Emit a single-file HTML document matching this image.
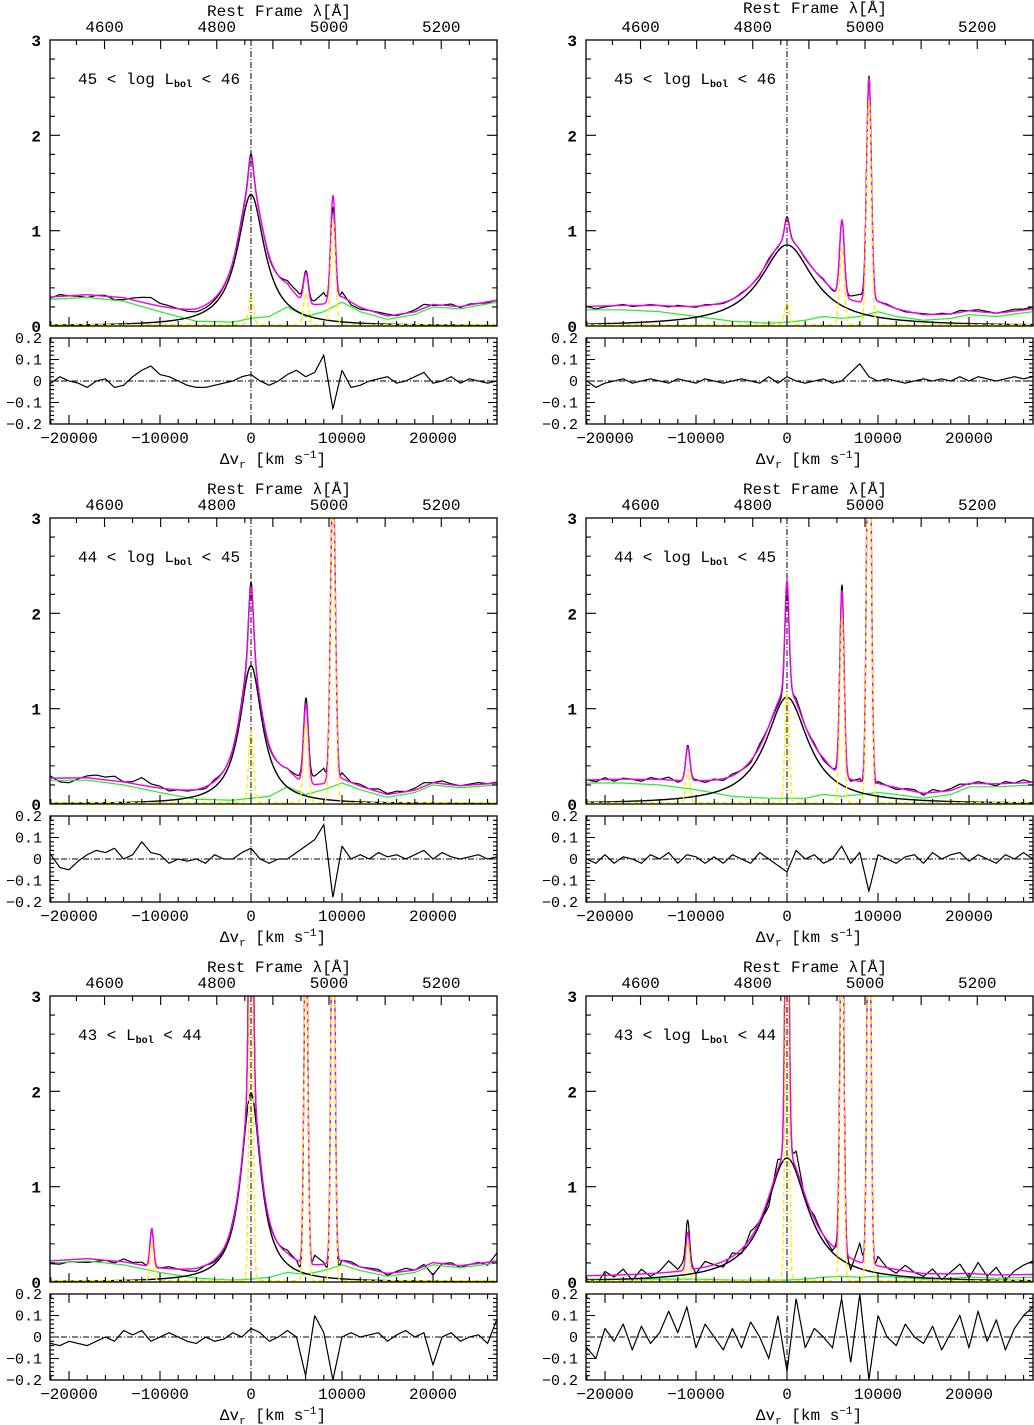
<!DOCTYPE html>
<html><head><meta charset="utf-8"><style>
body{margin:0;background:#fff;width:1034px;height:1425px;overflow:hidden}
svg{display:block}
text{font-family:"Liberation Mono","DejaVu Sans Mono",monospace;fill:#000}
</style></head><body>
<svg id="chart" width="1034" height="1425" viewBox="0 0 1034 1425"></svg>
<script>
// ---- data ----
const panelLabels = [["45","log ","46"],["45","log ","46"],["44","log ","45"],["44","log ","45"],["43","","44"],["43","log ","44"]];
// broad H-beta component: amplitude, half-width (km/s)
const broadAmp = [1.38, 0.85, 1.45, 1.12, 1.98, 1.30];
const broadHW = [1800, 3500, 1500, 2800, 1300, 2800];
// narrow lines: HeII, Hb narrow, [OIII]4959, [OIII]5007 centers
const narrowCenters = [-10900, 0, 6040, 9010];
const narrowAmps = [
 [0.00, 0.30, 0.33, 1.10],
 [0.00, 0.22, 0.80, 2.35],
 [0.00, 0.75, 0.85, 3.30],
 [0.35, 1.15, 1.95, 5.00],
 [0.40, 4.00, 4.00, 5.00],
 [0.40, 4.00, 4.00, 5.00]];
const narrowSigma = [260, 260, 260, 230, 200, 200];
// FeII + continuum (green) control velocities and values
const greenV = [-22000,-18000,-14000,-10000,-6000,-2000,0,2000,4000,6000,8000,10000,12000,15000,18000,20000,23000,27000];
const greenVals = [
 [0.28,0.30,0.26,0.15,0.05,0.04,0.08,0.10,0.20,0.10,0.15,0.25,0.15,0.07,0.12,0.20,0.18,0.25],
 [0.17,0.17,0.15,0.10,0.05,0.03,0.04,0.06,0.10,0.08,0.10,0.15,0.10,0.06,0.08,0.12,0.10,0.15],
 [0.25,0.25,0.20,0.12,0.05,0.04,0.06,0.08,0.18,0.10,0.15,0.22,0.15,0.07,0.12,0.20,0.17,0.20],
 [0.22,0.22,0.20,0.15,0.08,0.06,0.06,0.06,0.10,0.08,0.10,0.12,0.10,0.06,0.10,0.18,0.18,0.20],
 [0.20,0.22,0.18,0.10,0.04,0.02,0.03,0.05,0.10,0.08,0.12,0.18,0.12,0.06,0.10,0.18,0.15,0.20],
 [0.03,0.03,0.03,0.03,0.02,0.02,0.02,0.03,0.05,0.06,0.05,0.06,0.05,0.03,0.04,0.05,0.04,0.05]];
// residuals, sampled every 1000 km/s from -22000
const resid = [
 [-0.01,0.02,0.0,-0.01,-0.03,0.0,0.01,-0.03,-0.02,0.02,0.05,0.07,0.03,0.02,0.0,-0.02,-0.03,-0.03,-0.02,-0.01,0.0,0.02,0.03,0.0,-0.02,0.0,0.03,0.05,0.02,0.04,0.12,-0.13,0.05,-0.03,-0.02,0.0,0.01,0.02,-0.01,0.0,0.02,0.04,-0.01,0.0,0.02,-0.01,0.01,0.0,-0.01,0.0],
 [0.0,-0.03,-0.01,0.0,0.01,-0.01,0.0,0.01,0.0,-0.01,0.01,0.0,-0.01,0.01,0.0,-0.01,0.0,0.01,0.0,-0.01,0.02,-0.01,0.02,0.0,-0.01,0.0,0.01,-0.01,0.0,0.04,0.08,0.02,0.0,0.01,0.0,-0.01,0.0,0.01,0.0,0.01,0.0,0.02,0.0,0.02,0.01,0.0,0.01,0.02,0.01,0.02],
 [0.02,-0.04,-0.05,-0.01,0.02,0.04,0.03,0.05,0.0,0.02,0.08,0.03,0.02,-0.02,0.0,-0.01,0.0,-0.02,0.02,0.0,0.0,0.03,0.05,0.0,-0.02,0.0,0.0,0.03,0.06,0.09,0.16,-0.18,0.06,0.0,0.02,0.0,0.03,0.01,0.02,0.0,0.02,0.04,0.0,0.03,0.01,0.0,0.01,0.02,0.0,0.01],
 [0.0,-0.02,0.02,-0.02,0.01,0.0,-0.02,0.02,0.0,0.03,-0.02,0.02,0.01,-0.02,0.01,-0.02,0.02,0.0,-0.02,0.03,0.0,-0.03,-0.06,0.04,0.0,0.02,-0.02,0.0,0.06,-0.02,0.03,-0.15,0.02,0.0,-0.02,0.01,0.02,-0.02,0.03,0.0,0.02,0.03,-0.01,0.02,0.0,-0.02,0.02,0.0,0.03,0.0],
 [-0.03,-0.04,-0.02,-0.03,-0.04,-0.02,0.0,-0.02,0.03,0.01,0.03,-0.02,0.0,0.02,0.0,-0.02,-0.03,0.0,-0.02,-0.01,0.02,0.0,0.04,0.02,-0.02,0.0,0.03,0.0,-0.18,0.1,0.02,-0.2,0.0,0.02,0.0,0.01,0.02,-0.02,0.01,0.03,0.0,0.02,-0.13,0.0,0.02,-0.02,0.0,0.01,-0.03,0.08],
 [-0.05,-0.1,0.04,-0.02,0.06,-0.06,0.05,-0.03,0.02,0.12,0.02,0.14,-0.05,0.06,0.0,-0.06,0.04,-0.05,0.07,0.0,-0.1,0.1,-0.16,0.18,-0.05,0.04,0.0,-0.05,0.18,-0.12,0.2,-0.2,0.1,0.0,-0.04,0.06,0.0,-0.03,0.05,-0.06,0.02,0.1,-0.05,0.12,-0.02,0.08,-0.06,0.04,0.1,0.14]];

const xTicksV = [-20000,-10000,0,10000,20000];
const xTickLabels = ["\u221220000","\u221210000","0","10000","20000"];
const yTicks = [0,1,2,3];
const rTicks = [0.2,0.1,0,-0.1,-0.2];
const rTickLabels = ["0.2","0.1","0","\u22120.1","\u22120.2"];
const lamLabels = [4600,4800,5000,5200];

// ---- layout ----
const NS="http://www.w3.org/2000/svg";
const svg=document.getElementById('chart');
const C=299792.458, L0=4861;
const colX=[251,787], leftX=[50,586], W=447;
const rowTop=[40,518,996];
const MH=286, RT=298, RH=86;
const PPV=9.1/1000;
function mk(tag,attrs,parent){const e=document.createElementNS(NS,tag);for(const k in attrs)e.setAttribute(k,attrs[k]);(parent||svg).appendChild(e);return e;}
function interp(xs,ys,x){if(x<=xs[0])return ys[0];for(let i=1;i<xs.length;i++){if(x<=xs[i]){const t=(x-xs[i-1])/(xs[i]-xs[i-1]);return ys[i-1]+t*(ys[i]-ys[i-1]);}}return ys[ys.length-1];}
function residAt(p,v){const f=(v+22000)/1000;const i=Math.max(0,Math.min(resid[p].length-2,Math.floor(f)));const t=f-i;return resid[p][i]*(1-t)+resid[p][i+1]*t;}

for(let p=0;p<6;p++){
  const col=p%2,row=Math.floor(p/2);
  const ox=colX[col], lx=leftX[col], ty=rowTop[row];
  const xs=v=>ox+v*PPV;
  const vmin=(lx-ox)/PPV, vmax=(lx+W-ox)/PPV;
  const ys=y=>ty+MH-y*(MH/3);
  const ry0=ty+RT, ryz=ry0+RH/2;
  const rys=y=>ryz-y*(RH/0.4);
  const g=mk('g',{});
  
  
  const cid='clip'+p, rcid='rclip'+p;
  const defs=mk('defs',{},g);
  const cp=mk('clipPath',{id:cid},defs);mk('rect',{x:lx,y:ty,width:W,height:MH},cp);
  const rcp=mk('clipPath',{id:rcid},defs);mk('rect',{x:lx,y:ry0,width:W,height:RH},rcp);

  const broad=v=>broadAmp[p]/(1+Math.pow(v/broadHW[p],2));
  const green=v=>interp(greenV,greenVals[p],v);
  const narrow=v=>{let s=0.015;for(let k=0;k<narrowCenters.length;k++){const d=(v-narrowCenters[k])/narrowSigma[p];s+=narrowAmps[p][k]*Math.exp(-0.5*d*d);}return s;};
  let pObs='',pBr='',pGr='',pTot='',pY='',pR='';
  for(let v=vmin;v<=vmax;v+=40){
    const X=xs(v).toFixed(1);
    const tot=broad(v)+green(v)+narrow(v);
    const r=residAt(p,v);
    const c=pObs?'L':'M';
    pObs+=c+X+','+ys(tot+r).toFixed(1);
    pBr+=c+X+','+ys(broad(v)).toFixed(1);
    pGr+=c+X+','+ys(green(v)).toFixed(1);
    pTot+=c+X+','+ys(tot).toFixed(1);
    pY+=c+X+','+ys(narrow(v)).toFixed(1);
    pR+=c+X+','+rys(r).toFixed(1);
  }
  const cg=mk('g',{'clip-path':'url(#'+cid+')'},g);
  mk('line',{x1:xs(0),x2:xs(0),y1:ty,y2:ty+MH,stroke:'#000','stroke-width':1,'stroke-dasharray':'6,2,1,2'},cg);
  let e;
  e=mk('path',{d:pObs,fill:'none',stroke:'#000','stroke-width':1.2},cg);
  
  
  e=mk('path',{d:pGr,fill:'none',stroke:'#22ee22','stroke-width':1.2},cg);
  
  
  e=mk('path',{d:pBr,fill:'none',stroke:'#000','stroke-width':1.4},cg);
  
  
  e=mk('path',{d:pTot,fill:'none',stroke:'#ee00ee','stroke-width':1.4},cg);
  
  
  e=mk('path',{d:pY,fill:'none',stroke:'#ffee00','stroke-width':1.4,'stroke-dasharray':'5,3'},cg);
  
  

  const rg=mk('g',{'clip-path':'url(#'+rcid+')'},g);
  mk('line',{x1:lx,x2:lx+W,y1:ryz,y2:ryz,stroke:'#000','stroke-width':1,'stroke-dasharray':'6,2,1,2'},rg);
  mk('line',{x1:xs(0),x2:xs(0),y1:ry0,y2:ry0+RH,stroke:'#000','stroke-width':1,'stroke-dasharray':'6,2,1,2'},rg);
  e=mk('path',{d:pR,fill:'none',stroke:'#000','stroke-width':1.2},rg);
  
  

  mk('rect',{x:lx,y:ty,width:W,height:MH,fill:'none',stroke:'#000','stroke-width':1.3},g);
  mk('rect',{x:lx,y:ry0,width:W,height:RH,fill:'none',stroke:'#000','stroke-width':1.3},g);
  let tk='';
  for(let v=-22000;v<=27000;v+=2000){const X=xs(v);const maj=v%10000===0;const L=maj?9:5;
    tk+=`M${X},${ty+MH}v${-L}M${X},${ry0}v${L}M${X},${ry0+RH}v${-L}`;}
  for(let lam=4500;lam<=5300;lam+=50){const X=xs(C*(lam/L0-1));if(X<lx||X>lx+W)continue;const L=lam%100===0?9:5;tk+=`M${X},${ty}v${L}`;}
  for(let y=0;y<=3.001;y+=0.2){const Y=ys(y);const maj=Math.abs(y-Math.round(y))<0.01;const L=maj?10:5;tk+=`M${lx},${Y}h${L}M${lx+W},${Y}h${-L}`;}
  for(let k=-10;k<=10;k++){const y=k*0.02;const Y=rys(y);const maj=k%5===0;const L=maj?9:4;tk+=`M${lx},${Y}h${L}M${lx+W},${Y}h${-L}`;}
  mk('path',{d:tk,stroke:'#000','stroke-width':1.1,fill:'none'},g);

  const ax=mk('g',{},g);
  
  
  xTicksV.forEach((v,i)=>{const t=mk('text',{x:xs(v),y:ry0+RH+19,'text-anchor':'middle','font-size':16},ax);t.textContent=xTickLabels[i];});
  lamLabels.forEach(l=>{const t=mk('text',{x:xs(C*(l/L0-1)),y:ty-8,'text-anchor':'middle','font-size':16},ax);t.textContent=l;});
  yTicks.forEach(y=>{const t=mk('text',{x:lx-9,y:ys(y)+6,'text-anchor':'end','font-size':16,'font-weight':'bold'},ax);t.textContent=y;});
  rTicks.forEach((y,i)=>{const t=mk('text',{x:lx-8,y:rys(y)+5,'text-anchor':'end','font-size':15},ax);t.textContent=rTickLabels[i];});
  let t=mk('text',{x:ox+28,y:ty-(col===1&&row===0?27:24),'text-anchor':'middle','font-size':16},ax);
  t.textContent='Rest Frame \u03bb[\u00c5]';
  
  t=mk('text',{x:ox+22,y:ry0+RH+40,'text-anchor':'middle','font-size':16},ax);
  t.innerHTML='\u0394v<tspan font-size="11" dy="4">r</tspan><tspan dy="-4"> [km s</tspan><tspan font-size="11" dy="-6">\u22121</tspan><tspan dy="6">]</tspan>';
  
  const lb=panelLabels[p];
  t=mk('text',{x:lx+28,y:ty+44,'font-size':16},g);
  t.innerHTML=lb[0]+' &lt; '+lb[1]+'L<tspan font-size="10" font-weight="bold" dy="3">bol</tspan><tspan dy="-3"> &lt; '+lb[2]+'</tspan>';
  
  
}
</script>
</body></html>
